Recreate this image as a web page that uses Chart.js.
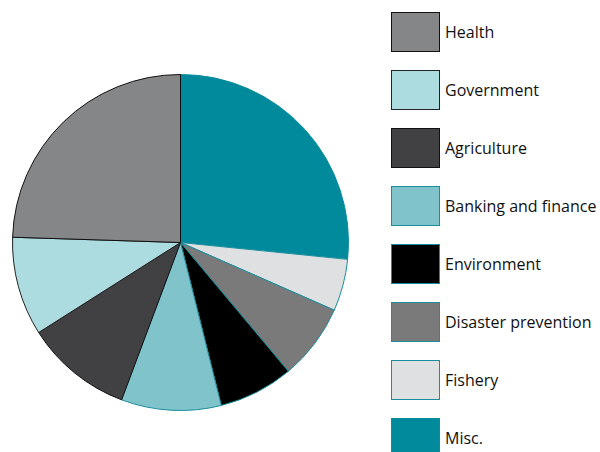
<!DOCTYPE html>
<html>
<head>
<meta charset="utf-8">
<title>Sectors</title>
<script src="https://cdn.jsdelivr.net/npm/chart.js@4"></script>
<style>
    html, body { margin: 0; padding: 0; background: #fff; }
    body { width: 600px; height: 452px; position: relative; overflow: hidden; }
    #pieBox { position: absolute; left: 12px; top: 74px; width: 337px; height: 337px; }
    #legend { position: absolute; left: 0; top: 0; }
    .item { position: absolute; left: 391px; height: 40px; }
    .swatch { position: absolute; left: 0; top: 0; width: 49px; height: 40px; box-sizing: border-box; border: 1px solid #000; }
    .name { position: absolute; left: 54px; top: 0; line-height: 40px; white-space: nowrap;
            font-family: "Open Sans", sans-serif; font-size: 16px; color: #111; }
</style>
</head>
<body>
<div id="pieBox"><canvas id="pie"></canvas></div>
<div id="legend"></div>

<script>
// Sector shares, listed in legend order
var sectors = ['Health', 'Government', 'Agriculture', 'Banking and finance',
               'Environment', 'Disaster prevention', 'Fishery', 'Misc.'];
var shares = [24.5, 9.5, 10.3, 9.6, 7.2, 7.3, 5.0, 26.6];
var fills = ['#858687', '#acdbe0', '#414143', '#80c3cb', '#000000', '#7a7a7a', '#dfe0e2', '#008a9b'];
var edges = ['#111111', '#222222', '#111111', '#1a8e9c', '#1a8e9c', '#1a8e9c', '#1a8e9c', '#0b8d9c'];

(function() {
    'use strict';

    // legend runs top-down while the pie runs clockwise from the last sector
    function reversed(arr) { return arr.slice().reverse(); }

    new Chart(document.getElementById('pie'), {
        type: 'pie',
        data: {
            labels: reversed(sectors),
            datasets: [{
                data: reversed(shares),
                backgroundColor: reversed(fills),
                borderColor: reversed(edges),
                borderWidth: 1
            }]
        },
        options: {
            responsive: true,
            maintainAspectRatio: false,
            animation: false,
            layout: { padding: 0 },
            plugins: {
                legend: { display: false },
                tooltip: { enabled: false }
            }
        }
    });

    // Legend beside the pie
    var legend = document.getElementById('legend');
    sectors.forEach(function(name, i) {
        var item = document.createElement('div');
        item.className = 'item';
        item.style.top = (12 + i * 58) + 'px';

        var swatch = document.createElement('div');
        swatch.className = 'swatch';
        swatch.style.background = fills[i];
        swatch.style.borderColor = edges[i];

        var label = document.createElement('div');
        label.className = 'name';
        label.textContent = name;

        item.appendChild(swatch);
        item.appendChild(label);
        legend.appendChild(item);
    });
})();
</script>
</body>
</html>
